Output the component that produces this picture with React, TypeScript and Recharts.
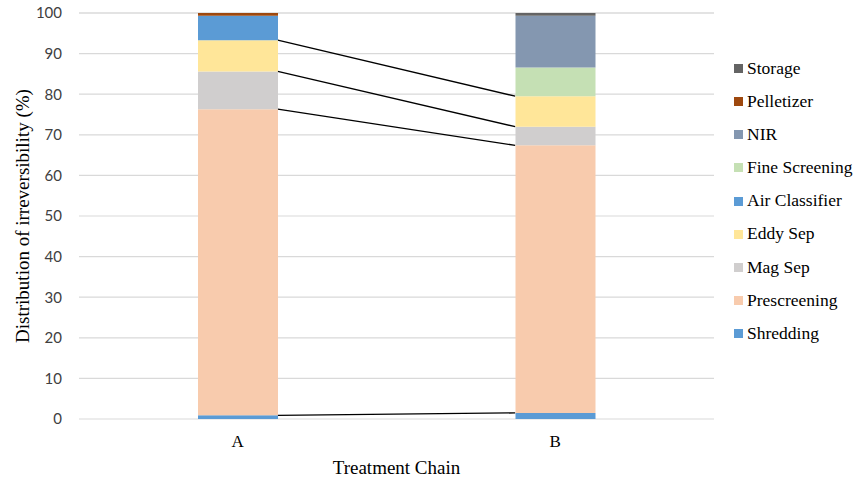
import { BarChart, Bar, XAxis, YAxis, CartesianGrid, Legend, Label, Customized, usePlotArea } from 'recharts';

// Categories (treatment chains) and per-stage irreversibility shares (%)
const categories = ['A', 'B'];
const shredding = [0.9, 1.5];
const prescreening = [75.4, 65.9];
const magSep = [9.3, 4.6];
const eddySep = [7.7, 7.5];
const airClassifier = [6.0, 0];
const fineScreening = [0, 7.1];
const nir = [0, 12.7];
const pelletizer = [0.7, 0];
const storage = [0, 0.7];

const yTicks = [0, 10, 20, 30, 40, 50, 60, 70, 80, 90, 100];

const series = [
  { key: 'shredding', name: 'Shredding', values: shredding, color: '#5B9BD5' },
  { key: 'prescreening', name: 'Prescreening', values: prescreening, color: '#F8CBAD' },
  { key: 'magSep', name: 'Mag Sep', values: magSep, color: '#D0CECE' },
  { key: 'eddySep', name: 'Eddy Sep', values: eddySep, color: '#FFE699' },
  { key: 'airClassifier', name: 'Air Classifier', values: airClassifier, color: '#5B9BD5' },
  { key: 'fineScreening', name: 'Fine Screening', values: fineScreening, color: '#C5E0B4' },
  { key: 'nir', name: 'NIR', values: nir, color: '#8497B0' },
  { key: 'pelletizer', name: 'Pelletizer', values: pelletizer, color: '#9E480E' },
  { key: 'storage', name: 'Storage', values: storage, color: '#646464' },
];

const data = categories.map((cat, i) => {
  const row: Record<string, string | number> = { name: cat };
  series.forEach((s) => (row[s.key] = s.values[i]));
  return row;
});

const BAR_SIZE = 80;
const Y_MAX = 100;
const SERIF = '"Liberation Serif", "Times New Roman", serif';

// Excel-style series lines joining the stacked segment tops of neighbouring bars
function SeriesLines() {
  const area = usePlotArea();
  if (!area) return null;
  const band = area.width / categories.length;
  const yPx = (v: number) => area.y + area.height * (1 - v / Y_MAX);
  const lines: JSX.Element[] = [];
  for (let i = 0; i < categories.length - 1; i++) {
    let cumA = 0;
    let cumB = 0;
    series.forEach((s, si) => {
      cumA += s.values[i];
      cumB += s.values[i + 1];
      if (s.values[i] > 0 && s.values[i + 1] > 0 && si < series.length - 1) {
        const x1 = area.x + band * (i + 0.5) + BAR_SIZE / 2;
        const x2 = area.x + band * (i + 1.5) - BAR_SIZE / 2;
        lines.push(
          <line key={`${i}-${s.key}`} x1={x1} y1={yPx(cumA)} x2={x2} y2={yPx(cumB)} stroke="#000" strokeWidth={1.3} />
        );
      }
    });
  }
  return <g>{lines}</g>;
}

function LegendList() {
  return (
    <div style={{ fontFamily: SERIF, fontSize: 17.5, color: '#000', lineHeight: 1 }}>
      {[...series].reverse().map((s) => (
        <div key={s.key} style={{ display: 'flex', alignItems: 'center', height: 33.2 }}>
          <span style={{ display: 'inline-block', width: 9, height: 9, background: s.color, marginRight: 4 }} />
          <span>{s.name}</span>
        </div>
      ))}
    </div>
  );
}

export default function App() {
  return (
    <div style={{ position: 'absolute', left: 0, top: 0, background: '#fff' }}>
      <BarChart width={855} height={480} data={data} margin={{ top: 13, right: 141, bottom: 0, left: 0 }}>
        <CartesianGrid vertical={false} stroke="#D9D9D9" strokeWidth={1.2} />
        <XAxis
          dataKey="name"
          height={61}
          axisLine={false}
          tickLine={false}
          tickMargin={10}
          tick={{ fontFamily: SERIF, fontSize: 17, fill: '#000' }}
        >
          <Label
            value="Treatment Chain"
            position="insideBottom"
            offset={6}
            style={{ fontFamily: SERIF, fontSize: 19, fill: '#000' }}
          />
        </XAxis>
        <YAxis
          width={79}
          domain={[0, Y_MAX]}
          ticks={yTicks}
          interval={0}
          axisLine={false}
          tickLine={false}
          tickMargin={11}
          tick={{ fontFamily: 'Lato, "Liberation Sans", sans-serif', fontSize: 15, fill: '#404040' }}
        >
          <Label
            value="Distribution of irreversibility (%)"
            angle={-90}
            position="insideLeft"
            offset={22}
            style={{ fontFamily: SERIF, fontSize: 19, fill: '#000', textAnchor: 'middle' }}
          />
        </YAxis>
        {series.map((s) => (
          <Bar
            key={s.key}
            dataKey={s.key}
            name={s.name}
            stackId="chain"
            fill={s.color}
            barSize={BAR_SIZE}
            isAnimationActive={false}
          />
        ))}
        <Customized component={<SeriesLines />} />
        <Legend
          layout="vertical"
          align="center"
          verticalAlign="middle"
          content={<LegendList />}
          wrapperStyle={{ top: 51.7, left: 734, right: 'auto', width: 121 }}
        />
      </BarChart>
    </div>
  );
}
